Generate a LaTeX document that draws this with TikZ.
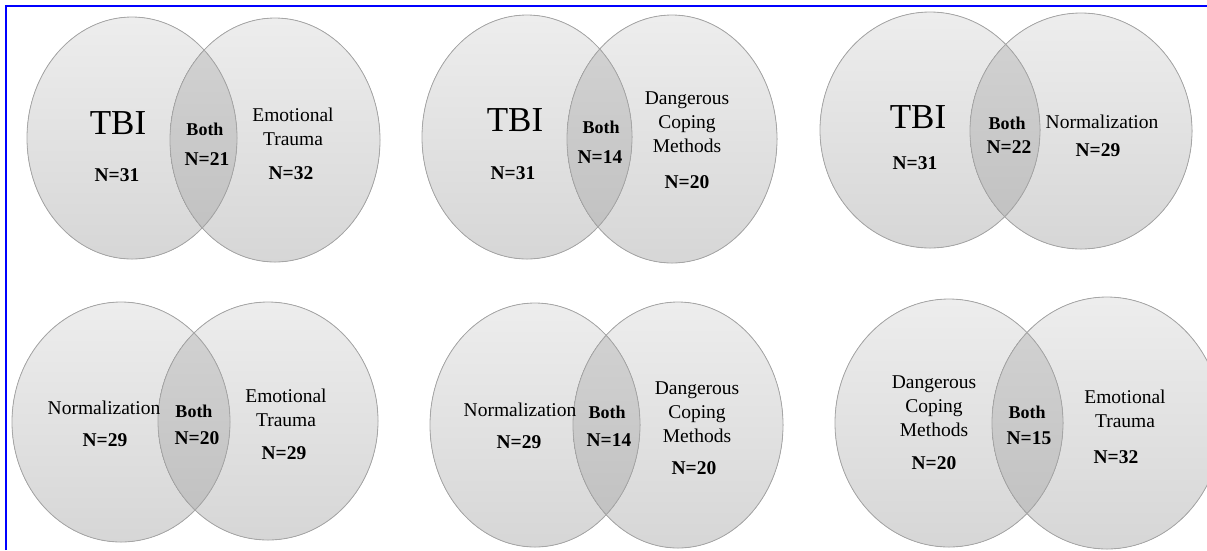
\documentclass[tikz,border=0pt]{standalone}
\usepackage{fontspec}
\setmainfont{Liberation Serif}
\usepackage{tikz}
\usepackage{xcolor}
\usetikzlibrary{positioning}

\definecolor{frameblue}{RGB}{0,0,255}

\begin{document}
\begin{tikzpicture}[
  x=1pt, y=-1pt,
  ring/.style={top color=black!7, bottom color=black!16},
  both/.style={top color=black!17, bottom color=black!25},
  rim/.style={draw=black!35, line width=0.8pt},
  lbl/.style={font=\fontsize{19.5}{24}\selectfont, align=center, inner sep=0pt},
  big/.style={font=\fontsize{35}{40}\selectfont, inner sep=0pt},
  num/.style={font=\fontsize{19.5}{24}\selectfont\bfseries, inner sep=0pt},
  bl/.style={font=\fontsize{18}{22}\selectfont\bfseries, inner sep=0pt}
]
\useasboundingbox (0,0) rectangle (1207,550);
\draw[frameblue, line width=2pt] (5.5,550) -- (5.5,5.5) -- (1207,5.5);

% the six circle pairs
\foreach \i/\ax/\ay/\aw/\ah/\bx/\by/\bw/\bh in {
  1/132/138/105/121/275/140/105/122,
  2/527/137/105/122/672/139/105/124,
  3/930/130/110/118/1081/131/111/118,
  4/121/422/109/120/268/421/110/119,
  5/535/425/105/122/678/425/105/123,
  6/949/423/114/124/1107/423/115/126}{
  \coordinate (l\i) at (\ax,\ay);
  \coordinate (r\i) at (\bx,\by);
  \fill[ring] (l\i) ellipse [x radius=\aw, y radius=\ah];
  \fill[ring] (r\i) ellipse [x radius=\bw, y radius=\bh];
  \begin{scope}
    \clip (l\i) ellipse [x radius=\aw, y radius=\ah];
    \fill[both] (r\i) ellipse [x radius=\bw, y radius=\bh];
  \end{scope}
  \draw[rim] (l\i) ellipse [x radius=\aw, y radius=\ah];
  \draw[rim] (r\i) ellipse [x radius=\bw, y radius=\bh];
}

% TBI and emotional trauma
\node[big] (tbiA)   at (118,123)   {TBI};
\node[num] (tbiAn)  at (117,175)   {N=31};
\node[bl]  (bothA)  at (205,129)   {Both};
\node[num] (bothAn) at (207,159)   {N=21};
\node[lbl] (emoA)   at (293,126.5) {Emotional\\Trauma};
\node[num] (emoAn)  at (291,173)   {N=32};

% TBI and coping
\node[big] (tbiB)   at (515,120)   {TBI};
\node[num] (tbiBn)  at (513,173)   {N=31};
\node[bl]  (bothB)  at (601,127)   {Both};
\node[num] (bothBn) at (600,157)   {N=14};
\node[lbl] (copB)   at (687,122.5) {Dangerous\\Coping\\Methods};
\node[num] (copBn)  at (687,182)   {N=20};

% TBI and normalization
\node[big] (tbiC)   at (918,117)   {TBI};
\node[num] (tbiCn)  at (915,163)   {N=31};
\node[bl]  (bothC)  at (1007,123)  {Both};
\node[num] (bothCn) at (1009,147)  {N=22};
\node[lbl] (norC)   at (1102,122)  {Normalization};
\node[num] (norCn)  at (1098,150)  {N=29};

% normalization and emotional trauma
\node[lbl] (norD)   at (104,408)   {Normalization};
\node[num] (norDn)  at (105,440)   {N=29};
\node[bl]  (bothD)  at (194,411)   {Both};
\node[num] (bothDn) at (197,438)   {N=20};
\node[lbl] (emoD)   at (286,407.5) {Emotional\\Trauma};
\node[num] (emoDn)  at (284,453)   {N=29};

% normalization and coping
\node[lbl] (norE)   at (520,410)   {Normalization};
\node[num] (norEn)  at (519,442)   {N=29};
\node[bl]  (bothE)  at (607,412)   {Both};
\node[num] (bothEn) at (609,440)   {N=14};
\node[lbl] (copE)   at (697,412)   {Dangerous\\Coping\\Methods};
\node[num] (copEn)  at (694,468)   {N=20};

% coping and emotional trauma
\node[lbl] (copF)   at (934,406)   {Dangerous\\Coping\\Methods};
\node[num] (copFn)  at (934,463)   {N=20};
\node[bl]  (bothF)  at (1027,412)  {Both};
\node[num] (bothFn) at (1029,438)  {N=15};
\node[lbl] (emoF)   at (1125,408.5){Emotional\\Trauma};
\node[num] (emoFn)  at (1116,457)  {N=32};
\end{tikzpicture}
\end{document}
